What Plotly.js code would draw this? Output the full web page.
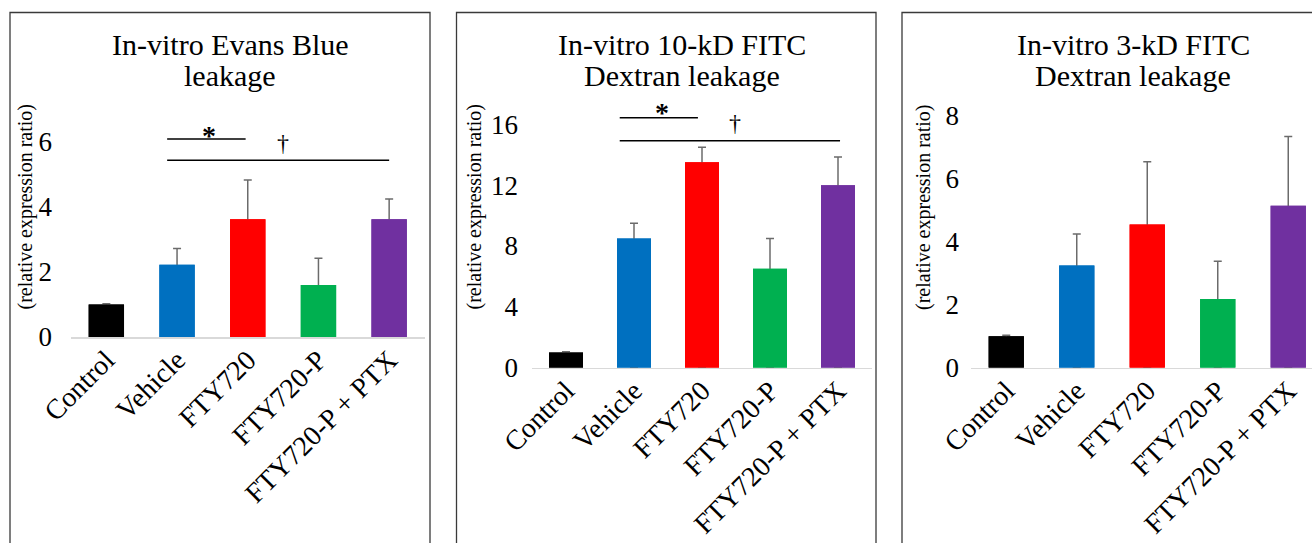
<!DOCTYPE html>
<html>
<head>
<meta charset="utf-8">
<script src="https://cdn.plot.ly/plotly-3.0.1.min.js"></script>
<style>html,body{margin:0;padding:0;background:#fff;}#chart{width:1312px;height:543px;}</style>
</head>
<body>
<div id="chart"></div>
<script>
// ---------- data ----------
const categories = ["Control", "Vehicle", "FTY720", "FTY720-P", "FTY720-P + PTX"];
const barColors = ["#000000", "#0070C0", "#FF0000", "#00B050", "#7030A0"];

const evansBlue    = [1.0, 2.22, 3.62, 1.60, 3.62];
const evansBlueErr = [0.02, 0.50, 1.20, 0.82, 0.62];

const dextran10    = [1.0, 8.50, 13.50, 6.50, 12.00];
const dextran10Err = [0.05, 1.00, 1.00, 2.00, 1.85];

const dextran3     = [1.0, 3.25, 4.55, 2.18, 5.15];
const dextran3Err  = [0.03, 1.00, 2.00, 1.20, 2.20];

const titles = [
  ["In-vitro Evans Blue", "leakage"],
  ["In-vitro 10-kD FITC", "Dextran leakage"],
  ["In-vitro 3-kD FITC", "Dextran leakage"]
];
const yTitle = "(relative expression ratio)";
const yTicks1 = [0, 2, 4, 6];
const yTicks2 = [0, 4, 8, 12, 16];
const yTicks3 = [0, 2, 4, 6, 8];

// ---------- layout helpers ----------
const W = 1312, H = 543;
const fx = p => p / W;
const fy = p => 1 - p / H;
const FONT = "Liberation Serif";

// bars with upward error bars; the lower whisker is hidden behind a second, identical bar drawn on top
function barTraces(vals, errs, xa, ya) {
  const base = {
    type: "bar", x: categories, y: vals, xaxis: xa, yaxis: ya,
    width: 0.5, marker: { color: barColors, line: { width: 0 } }, hoverinfo: "x+y"
  };
  const withErr = Object.assign({}, base, {
    error_y: { type: "data", symmetric: false, array: errs, arrayminus: vals,
               color: "#6b6b6b", thickness: 1.5, width: 4 }
  });
  return [withErr, base];
}

const data = [].concat(
  barTraces(evansBlue, evansBlueErr, "x", "y"),
  barTraces(dextran10, dextran10Err, "x2", "y2"),
  barTraces(dextran3, dextran3Err, "x3", "y3")
);

function xAxis(d0, d1, anchor, r1) {
  return {
    domain: [fx(d0), Math.min(1, fx(d1))], anchor: anchor,
    type: "category", range: [-0.5, r1],
    showline: true, linecolor: "#d9d9d9", linewidth: 1.5,
    ticks: "", tickangle: -45, ticklabelstandoff: -6,
    tickfont: { family: FONT, size: 28, color: "#000" },
    showgrid: false, zeroline: false, fixedrange: true
  };
}
function yAxis(zeroPx, ppu, yMax, anchor, ticks, standoff) {
  return {
    domain: [fy(zeroPx), fy(zeroPx - yMax * ppu)], anchor: anchor,
    range: [0, yMax], tickvals: ticks, ticktext: ticks.map(String),
    showline: false, showgrid: false, zeroline: false, ticks: "",
    ticklabelstandoff: standoff,
    tickfont: { family: FONT, size: 27, color: "#000" }, fixedrange: true
  };
}

const p3Right = 4.5 - (1323.5 - 1312) / 70.5;

const layout = {
  width: W, height: H,
  margin: { l: 0, r: 0, t: 0, b: 0 },
  paper_bgcolor: "#fff", plot_bgcolor: "rgba(0,0,0,0)",
  showlegend: false, barmode: "overlay",
  font: { family: FONT, color: "#000" },
  xaxis:  xAxis(71, 424.5, "y", 4.5),
  yaxis:  yAxis(337, 32.55, 7, "x", yTicks1, 18),
  xaxis2: xAxis(532, 872, "y2", 4.5),
  yaxis2: yAxis(367.7, 15.21, 18, "x2", yTicks2, 13),
  xaxis3: xAxis(971, 1312, "y3", p3Right),
  yaxis3: yAxis(367.7, 31.46, 9, "x3", yTicks3, 11),
  shapes: [],
  annotations: []
};

// panel frames
[[10, 430], [456.5, 876], [902, 1330]].forEach(([a, b]) => {
  layout.shapes.push({ type: "rect", xref: "paper", yref: "paper",
    x0: fx(a), x1: fx(b), y0: fy(560), y1: fy(12.5),
    line: { color: "#3a3a3a", width: 1.3 }, fillcolor: "rgba(0,0,0,0)" });
});

// titles
const titleX = [230, 682, 1133];
titles.forEach((t, i) => {
  layout.annotations.push({ xref: "paper", yref: "paper", x: fx(titleX[i]), y: fy(44),
    text: t[0], showarrow: false, xanchor: "center", yanchor: "middle",
    font: { family: FONT, size: 30, color: "#000" } });
  layout.annotations.push({ xref: "paper", yref: "paper", x: fx(titleX[i]), y: fy(76),
    text: t[1], showarrow: false, xanchor: "center", yanchor: "middle",
    font: { family: FONT, size: 30, color: "#000" } });
});

// y-axis titles
[25, 474, 923.5].forEach(xp => {
  layout.annotations.push({ xref: "paper", yref: "paper", x: fx(xp), y: fy(207.5),
    text: yTitle, textangle: -90, showarrow: false, xanchor: "center", yanchor: "middle",
    font: { family: FONT, size: 20, color: "#000" } });
});

// significance brackets (panels 1 and 2)
function sig(xa, ya, x0, x1a, x1b, yStar, yDag, yStarTxt, yDagTxt, xStar, xDag) {
  layout.shapes.push({ type: "line", xref: xa, yref: ya, x0: x0, x1: x1a, y0: yStar, y1: yStar,
    line: { color: "#000", width: 1.5 } });
  layout.shapes.push({ type: "line", xref: xa, yref: ya, x0: x0, x1: x1b, y0: yDag, y1: yDag,
    line: { color: "#000", width: 1.5 } });
  layout.annotations.push({ xref: xa, yref: ya, x: xStar, y: yStarTxt, text: "<b>*</b>",
    showarrow: false, xanchor: "center", yanchor: "middle",
    font: { family: FONT, size: 28, color: "#000" } });
  layout.annotations.push({ xref: xa, yref: ya, x: xDag, y: yDagTxt, text: "†",
    showarrow: false, xanchor: "center", yanchor: "middle",
    font: { family: FONT, size: 24, color: "#000" } });
}
sig("x", "y", 0.86, 1.97, 4.0, 6.08, 5.43, 6.2, 5.97, 1.45, 2.5);
sig("x2", "y2", 0.79, 1.94, 4.03, 16.44, 14.92, 16.75, 16.1, 1.41, 2.49);

Plotly.newPlot("chart", data, layout, { staticPlot: true, displayModeBar: false });
</script>
</body>
</html>
